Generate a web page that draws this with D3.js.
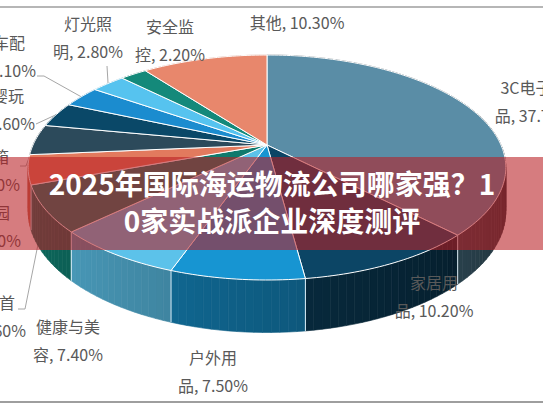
<!DOCTYPE html>
<html>
<head>
<meta charset="utf-8">
<script src="https://cdn.jsdelivr.net/npm/d3@7"></script>
<style>
html, body { margin: 0; padding: 0; background: #fff; overflow: hidden; }
</style>
</head>
<body>
<svg></svg>
<script>
// data (percent of total)
const categories = ["3C电子产品", "家居用品", "户外用品", "健康与美容", "珠宝首饰", "家居园艺",
    "旅行箱包", "母婴玩具", "汽车配件", "灯光照明", "安全监控", "其他"];
const shares = [37.7, 10.2, 7.5, 7.4, 6.6, 4.2, 4.4, 3.6, 3.1, 2.8, 2.2, 10.3];
const colors = ["#5a8da6", "#0c4565", "#1795d2", "#5cc2ea", "#0f7a6d", "#e27a5e",
    "#2c4a5b", "#0a4868", "#1b8ccf", "#56c3ef", "#14897a", "#e8876c"];
const titleLines = ["2025年国际海运物流公司哪家强？1", "0家实战派企业深度测评"];

// layout: label centre of first line, leader start points
const labelAt = [[534, 88], [434, 283], [213, 358], [68, 327], [-9, 303], [-14, 213],
    [-15, 157], [0, 96], [1, 43], [88, 24], [170, 27], [297, 23]];
const leaderFrom = { "珠宝首饰": [[18, 309], [25, 309]], "旅行箱包": [[20, 166], [26, 166]],
    "母婴玩具": [[36, 124]], "汽车配件": [[37, 76], [44, 76]], "灯光照明": [[107, 66]] };

const width = 543, height = 408;
const cx = 267, cy = 145, rx = 234, ry = 108, k = 0.2, depth = 42;

const svg = d3.select("svg")
    .attr("width", width)
    .attr("height", height);

const color = d3.scaleOrdinal().domain(categories).range(colors);
const pct = d3.format(".2f");

const arcs = d3.pie().sort(null).value(i => shares[i])(d3.range(categories.length));

// perspective projection of a point on the pie's top circle (angle clockwise from top)
function proj(a, r = 1, h = 0) {
    const u = Math.sin(a) * r, v = -Math.cos(a) * r;
    const s = 1 / (1 - k * v);
    return [cx + rx * u * s, cy + ry * v * s + h * s];
}
function rim(a0, a1, h) {
    const n = Math.max(2, Math.ceil((a1 - a0) / 0.02));
    return d3.range(n + 1).map(j => proj(a0 + (a1 - a0) * j / n, 1, h));
}
const line = d3.line();

// leader lines go under the pie
const leaders = svg.append("g");
arcs.forEach(d => {
    const name = categories[d.data];
    if (!leaderFrom[name]) return;
    const mid = (d.startAngle + d.endAngle) / 2;
    leaders.append("path")
        .attr("d", line(leaderFrom[name].concat([proj(mid, 1, 0)])))
        .attr("fill", "none")
        .attr("stroke", "#a6a6a6")
        .attr("stroke-width", 1);
});

// side wall, in small segments drawn back to front
const segs = [];
arcs.forEach(d => {
    const n = Math.max(1, Math.ceil((d.endAngle - d.startAngle) / 0.03));
    for (let j = 0; j < n; j++) {
        const b0 = d.startAngle + (d.endAngle - d.startAngle) * j / n;
        const b1 = d.startAngle + (d.endAngle - d.startAngle) * (j + 1) / n;
        segs.push({ i: d.data, b0, b1, z: -Math.cos((b0 + b1) / 2) });
    }
});
segs.sort((a, b) => a.z - b.z);

const shade = a => {
    const deg = a * 180 / Math.PI;
    return Math.max(0.33, Math.min(0.85, 0.33 + 0.5 * (deg - 100) / 140));
};

svg.append("g")
    .selectAll("path").data(segs).enter().append("path")
    .attr("d", s => line([proj(s.b0, 1, 0), proj(s.b1, 1, 0), proj(s.b1, 1, depth), proj(s.b0, 1, depth)]) + "Z")
    .each(function (s) {
        const c = d3.rgb(color(categories[s.i]));
        const f = shade((s.b0 + s.b1) / 2);
        const sc = d3.rgb(c.r * f, c.g * f, c.b * f).formatHex();
        d3.select(this).attr("fill", sc).attr("stroke", sc).attr("stroke-width", 0.6);
    });

// slice edges on the visible side wall
svg.append("g")
    .selectAll("path").data(arcs.filter(d => -Math.cos(d.startAngle) > 0.2)).enter().append("path")
    .attr("d", d => line([proj(d.startAngle, 1, 0), proj(d.startAngle, 1, depth)]))
    .attr("stroke", "#dff1fa")
    .attr("stroke-width", 1);

// top faces
svg.append("g")
    .selectAll("path").data(arcs).enter().append("path")
    .attr("d", d => line([[cx, cy]].concat(rim(d.startAngle, d.endAngle, 0))) + "Z")
    .attr("fill", d => color(categories[d.data]))
    .attr("stroke", "#fff")
    .attr("stroke-width", 1)
    .attr("stroke-linejoin", "round");

// data labels
const labels = svg.append("g")
    .attr("font-family", "'Noto Sans CJK SC', 'Microsoft YaHei', sans-serif")
    .attr("font-size", 16)
    .attr("fill", "#595959")
    .attr("text-anchor", "middle");

arcs.forEach(d => {
    const name = categories[d.data];
    const p = labelAt[d.data];
    const val = pct(shares[d.data]) + "%";
    const rows = name.length > 2
        ? [name.slice(0, -1), name.slice(-1) + ", " + val]
        : [name + ", " + val];
    rows.forEach((t, j) => {
        labels.append("text")
            .attr("x", p[0])
            .attr("y", p[1] + j * 28)
            .attr("dy", "0.35em")
            .text(t);
    });
});

// frame
svg.append("line").attr("x1", 0).attr("x2", width).attr("y1", 7).attr("y2", 7)
    .attr("stroke", "#9e9e9e").attr("stroke-width", 1.5);
svg.append("line").attr("x1", 0).attr("x2", width).attr("y1", 402).attr("y2", 402)
    .attr("stroke", "#9e9e9e").attr("stroke-width", 2);

// title banner
svg.append("rect")
    .attr("x", 0)
    .attr("y", 157)
    .attr("width", width)
    .attr("height", 93)
    .attr("fill", "rgb(185,30,35)")
    .attr("fill-opacity", 0.58);

svg.append("g")
    .attr("font-family", "'Noto Sans CJK SC', sans-serif")
    .attr("font-weight", "bold")
    .attr("font-size", 28)
    .attr("fill", "#fff")
    .attr("text-anchor", "middle")
    .selectAll("text").data(titleLines).enter().append("text")
    .attr("x", 272)
    .attr("y", (d, i) => 185 + i * 37)
    .attr("dy", "0.36em")
    .text(d => d);
</script>
</body>
</html>
